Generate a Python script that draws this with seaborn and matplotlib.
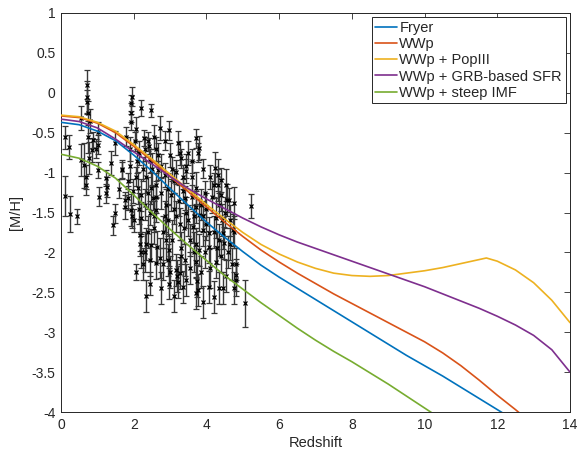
import numpy as np
import pandas as pd
import matplotlib
matplotlib.use("Agg")
import matplotlib.pyplot as plt
import seaborn as sns

# ---------------- observed data points (redshift, [M/H], error) ----------------
obs_z = [
    0.11, 0.22, 0.11, 0.24, 0.44, 0.72, 0.72, 0.72, 0.74, 0.55, 0.75, 0.63, 0.54, 0.69, 0.69, 0.86,
    0.78, 1.01, 1.03, 1.01, 1.05, 1.24, 1.26, 1.24, 1.38, 1.49, 1.49, 1.44, 1.69, 0.88, 0.95, 0.80,
    1.93, 1.93, 1.93, 1.96, 2.19, 2.47, 2.04, 1.89, 1.89, 1.68, 2.28, 2.39, 2.42, 2.30, 2.12,
    1.98, 1.84, 2.21, 2.48, 2.53, 1.76, 1.75, 1.93, 2.21, 2.44, 2.16, 2.16, 2.30, 2.48, 2.44,
    2.07, 2.44, 2.05, 2.10, 2.25, 2.35, 2.00, 2.30, 2.15, 2.38, 1.85, 2.45, 2.26, 2.35,
    2.71, 2.96, 2.67, 2.76, 2.66, 2.85, 2.99, 3.22, 3.27, 3.31, 3.45, 3.15, 3.03, 3.36, 3.40, 2.60,
    2.94, 3.26, 3.38, 2.65, 2.71, 2.94, 2.97, 3.17, 3.22, 3.27, 3.36, 2.97, 2.60, 2.81, 3.20, 2.60,
    2.75, 2.90, 3.10, 2.55, 2.80, 3.05, 3.30, 3.10, 2.85, 3.45, 3.10, 2.75, 3.40, 3.35, 2.55, 3.05,
    3.71, 3.80, 3.78, 4.24, 4.31, 4.31, 4.39, 4.40, 3.44, 3.71, 3.71, 3.80, 3.62, 3.90, 4.08,
    4.26, 4.35, 4.42, 4.45, 3.71, 3.80, 4.07, 4.26, 4.35, 4.45, 3.71, 3.75, 3.76, 3.72, 3.90,
    4.22, 4.06, 3.55, 3.60, 3.95, 4.00, 4.10, 3.90, 4.15, 3.60, 4.20, 3.85, 4.10, 3.65, 4.35,
    4.57, 4.63, 4.77, 5.23, 4.77, 4.81, 4.81, 4.81, 4.77, 5.06, 4.47, 4.60, 4.74, 4.55, 4.65,
    2.05, 2.15, 2.50, 2.62, 2.85, 2.95, 3.15, 3.25, 3.50, 3.55, 3.85, 4.00, 4.30, 4.50, 4.65, 4.70,
    3.95, 3.65, 2.40, 2.55, 2.90, 3.00, 3.30, 2.20, 1.95, 2.60, 3.50, 3.60, 4.55, 4.20, 1.80, 1.60,
    3.90, 4.40, 3.45, 2.35,
]
obs_mh = [
    -0.56, -0.68, -1.29, -1.52, -1.55, 0.10, -0.05, -0.12, -0.25, -0.32, -0.55, -0.91, -0.84, -1.05, -1.16, -0.72,
    -0.82, -0.49, -0.65, -0.97, -1.30, -1.07, -1.18, -1.26, -0.88, -0.63, -1.51, -1.66, -0.97, -0.59, -0.70, -0.35,
    -0.13, -0.25, -0.36, -0.05, -0.19, -0.22, -0.61, -0.71, -0.92, -0.96, -0.57, -0.61, -0.67, -0.71, -1.19,
    -1.23, -1.32, -1.28, -1.19, -1.32, -1.34, -1.43, -1.47, -1.57, -1.51, -1.78, -1.89, -1.99, -1.91, -2.09,
    -2.24, -2.39, -1.05, -0.85, -0.95, -1.05, -1.60, -1.40, -1.45, -1.75, -1.10, -0.85, -2.15, -2.55,
    -0.44, -0.47, -0.78, -0.92, -0.97, -1.03, -0.78, -0.63, -0.75, -0.82, -0.92, -0.99, -1.28, -1.23, -1.32, -1.47,
    -1.59, -1.64, -1.70, -1.93, -2.07, -2.10, -1.97, -2.22, -2.37, -2.26, -2.43, -2.39, -2.13, -2.14, -2.30, -1.15,
    -1.25, -1.40, -1.45, -1.70, -1.75, -1.85, -1.95, -1.10, -0.60, -1.50, -2.55, -2.45, -2.10, -1.05, -0.55, -0.95,
    -0.57, -0.69, -0.75, -0.94, -1.03, -1.15, -1.09, -1.28, -0.98, -1.19, -1.43, -1.53, -1.68, -1.72, -1.76,
    -1.57, -1.84, -1.59, -1.76, -1.89, -1.97, -1.93, -2.12, -2.45, -2.45, -2.12, -2.36, -2.47, -2.51, -2.62,
    -2.56, -2.43, -2.20, -1.30, -1.25, -1.45, -1.05, -0.95, -1.30, -1.05, -1.75, -2.25, -2.20, -1.55, -1.40,
    -1.34, -1.34, -1.38, -1.42, -1.74, -2.14, -2.35, -2.28, -2.45, -2.64, -1.88, -2.00, -1.72, -2.30, -1.60,
    -0.45, -0.75, -0.95, -1.30, -1.55, -1.20, -1.55, -1.35, -1.60, -1.85, -1.40, -1.65, -1.95, -1.50, -1.90, -2.15,
    -2.00, -2.00, -1.25, -1.55, -1.85, -2.25, -2.05, -2.00, -1.55, -0.70, -0.75, -0.85, -1.15, -1.15, -0.55, -1.20,
    -1.55, -2.05, -2.35, -1.90,
]
obs_err = [
    0.15, 0.15, 0.25, 0.23, 0.10, 0.18, 0.20, 0.15, 0.15, 0.15, 0.20, 0.28, 0.20, 0.15, 0.12, 0.15,
    0.20, 0.12, 0.12, 0.10, 0.12, 0.10, 0.12, 0.12, 0.15, 0.15, 0.12, 0.12, 0.10, 0.10, 0.12, 0.15,
    0.10, 0.12, 0.10, 0.12, 0.10, 0.08, 0.12, 0.15, 0.20, 0.12, 0.10, 0.12, 0.10, 0.15, 0.20,
    0.15, 0.15, 0.20, 0.20, 0.15, 0.10, 0.15, 0.20, 0.20, 0.15, 0.20, 0.15, 0.25, 0.20, 0.20,
    0.10, 0.15, 0.12, 0.15, 0.15, 0.20, 0.15, 0.20, 0.20, 0.20, 0.10, 0.15, 0.20, 0.20,
    0.15, 0.12, 0.15, 0.15, 0.12, 0.15, 0.15, 0.15, 0.15, 0.12, 0.15, 0.15, 0.20, 0.15, 0.15, 0.15,
    0.20, 0.20, 0.20, 0.20, 0.25, 0.20, 0.20, 0.20, 0.20, 0.20, 0.20, 0.20, 0.20, 0.20, 0.20, 0.15,
    0.20, 0.20, 0.20, 0.20, 0.20, 0.25, 0.20, 0.15, 0.12, 0.20, 0.20, 0.20, 0.20, 0.15, 0.15, 0.15,
    0.12, 0.15, 0.12, 0.20, 0.20, 0.20, 0.15, 0.20, 0.15, 0.20, 0.20, 0.20, 0.20, 0.20, 0.20,
    0.25, 0.20, 0.20, 0.20, 0.20, 0.20, 0.20, 0.20, 0.20, 0.20, 0.20, 0.20, 0.20, 0.20, 0.20,
    0.20, 0.20, 0.20, 0.15, 0.15, 0.20, 0.15, 0.12, 0.20, 0.20, 0.20, 0.20, 0.25, 0.15, 0.15,
    0.20, 0.15, 0.20, 0.15, 0.20, 0.20, 0.20, 0.20, 0.20, 0.30, 0.20, 0.20, 0.20, 0.20, 0.20,
    0.15, 0.15, 0.20, 0.20, 0.20, 0.20, 0.20, 0.20, 0.20, 0.20, 0.20, 0.20, 0.20, 0.20, 0.20, 0.20,
    0.20, 0.25, 0.20, 0.20, 0.25, 0.20, 0.20, 0.20, 0.15, 0.15, 0.15, 0.15, 0.20, 0.15, 0.12, 0.12,
    0.20, 0.20, 0.20, 0.20,
]

# ---------------- model curves ----------------
fryer_z = [0, 0.5, 1, 1.5, 2, 2.5, 3, 3.5, 4, 4.5, 5, 5.5, 6, 6.5, 7, 7.5, 8, 8.5, 9, 9.5,
           10, 10.5, 11, 11.5, 12, 12.5]
fryer_v = [-0.37, -0.40, -0.48, -0.60, -0.78, -0.98, -1.20, -1.41, -1.62, -1.81, -1.99, -2.16,
           -2.31, -2.45, -2.59, -2.73, -2.87, -3.01, -3.15, -3.29, -3.42, -3.55, -3.69, -3.83,
           -3.97, -4.11]

wwp_z = [0, 0.5, 1, 1.5, 2, 2.5, 3, 3.5, 4, 4.5, 5, 5.5, 6, 6.5, 7, 7.5, 8, 8.5, 9, 9.5,
         10, 10.5, 11, 11.5, 12, 12.5, 13]
wwp_v = [-0.29, -0.31, -0.38, -0.50, -0.67, -0.85, -1.05, -1.24, -1.43, -1.62, -1.80, -1.97,
         -2.12, -2.26, -2.39, -2.52, -2.64, -2.76, -2.88, -3.00, -3.12, -3.26, -3.42, -3.60,
         -3.79, -3.97, -4.16]

popiii_z = [0, 0.5, 1, 1.5, 2, 2.5, 3, 3.5, 4, 4.5, 5, 5.5, 6, 6.5, 7, 7.5, 8, 8.5, 9, 9.5,
            10, 10.5, 11, 11.5, 11.7, 12, 12.5, 13, 13.5, 14]
popiii_v = [-0.28, -0.30, -0.37, -0.48, -0.65, -0.83, -1.02, -1.21, -1.40, -1.58, -1.75, -1.90,
            -2.02, -2.12, -2.20, -2.26, -2.29, -2.30, -2.29, -2.26, -2.23, -2.19, -2.14, -2.09,
            -2.07, -2.11, -2.22, -2.38, -2.60, -2.88]

grb_z = [0, 0.5, 1, 1.5, 2, 2.5, 3, 3.5, 4, 4.5, 5, 5.5, 6, 6.5, 7, 7.5, 8, 8.5, 9, 9.5,
         10, 10.5, 11, 11.5, 12, 12.5, 13, 13.5, 14]
grb_v = [-0.33, -0.36, -0.44, -0.58, -0.74, -0.89, -1.05, -1.20, -1.33, -1.45, -1.57, -1.68,
         -1.78, -1.87, -1.95, -2.03, -2.11, -2.19, -2.27, -2.35, -2.43, -2.52, -2.61, -2.70,
         -2.80, -2.91, -3.04, -3.22, -3.50]

steep_z = [0, 0.5, 1, 1.5, 2, 2.5, 3, 3.5, 4, 4.5, 5, 5.5, 6, 6.5, 7, 7.5, 8, 8.5, 9, 9.5,
           10, 10.5]
steep_v = [-0.77, -0.82, -0.92, -1.07, -1.28, -1.50, -1.71, -1.91, -2.10, -2.29, -2.46, -2.63,
           -2.79, -2.95, -3.10, -3.24, -3.37, -3.51, -3.65, -3.80, -3.95, -4.10]

model_names = ["Fryer", "WWp", "WWp + PopIII", "WWp + GRB-based SFR", "WWp + steep IMF"]
model_colors = ["#0072BD", "#D95319", "#EDB120", "#7E2F8E", "#77AC30"]
x_ticks = [0, 2, 4, 6, 8, 10, 12, 14]
y_ticks = [-4, -3.5, -3, -2.5, -2, -1.5, -1, -0.5, 0, 0.5, 1]
y_ticklabels = ["-4", "-3.5", "-3", "-2.5", "-2", "-1.5", "-1", "-0.5", "0", "0.5", "1"]

curves = pd.concat([
    pd.DataFrame({"z": zz, "v": vv, "model": name})
    for name, zz, vv in zip(model_names,
                            [fryer_z, wwp_z, popiii_z, grb_z, steep_z],
                            [fryer_v, wwp_v, popiii_v, grb_v, steep_v])
], ignore_index=True)

# ---------------- styling ----------------
sns.set_theme(style="white")
plt.rcParams['font.family'] = ['Liberation Sans', 'DejaVu Sans']
plt.rcParams['axes.unicode_minus'] = False

fig = plt.figure(figsize=(5.81, 4.51), dpi=100)
ax = fig.add_axes([61 / 581, 1 - 412 / 451, (570 - 61) / 581, (412 - 13) / 451])

ax.errorbar(obs_z, obs_mh, yerr=obs_err, fmt='x', color='black', ms=3.5, mew=0.9,
            elinewidth=1.0, ecolor='#383838', capsize=2.2, capthick=0.9, zorder=2)

sns.lineplot(data=curves, x="z", y="v", hue="model", hue_order=model_names,
             palette=dict(zip(model_names, model_colors)), estimator=None, sort=False,
             linewidth=1.2, ax=ax, zorder=3)

ax.set_xlim(0, 14)
ax.set_ylim(-4, 1)
ax.set_xticks(x_ticks)
ax.set_yticks(y_ticks)
ax.set_yticklabels(y_ticklabels)
ax.set_xlabel("Redshift", fontsize=10.5, color='#262626', labelpad=3)
ax.set_ylabel("[M/H]", fontsize=10.5, color='#262626', labelpad=6)
ax.tick_params(direction='in', top=True, right=True, length=4, width=0.6,
               colors='#262626', labelsize=10, pad=4)
for s in ax.spines.values():
    s.set_visible(True)
    s.set_color('#262626')
    s.set_linewidth(0.7)

handles, labels = ax.get_legend_handles_labels()
leg = ax.legend(handles, labels, loc='upper right', fontsize=10.5, frameon=True,
                fancybox=False, framealpha=1, edgecolor='#262626', borderaxespad=0.3,
                handlelength=1.5, handletextpad=0.15, labelspacing=0.15, borderpad=0.25)
leg.get_frame().set_linewidth(0.7)

fig.savefig("out.png", dpi=100, facecolor='white')
